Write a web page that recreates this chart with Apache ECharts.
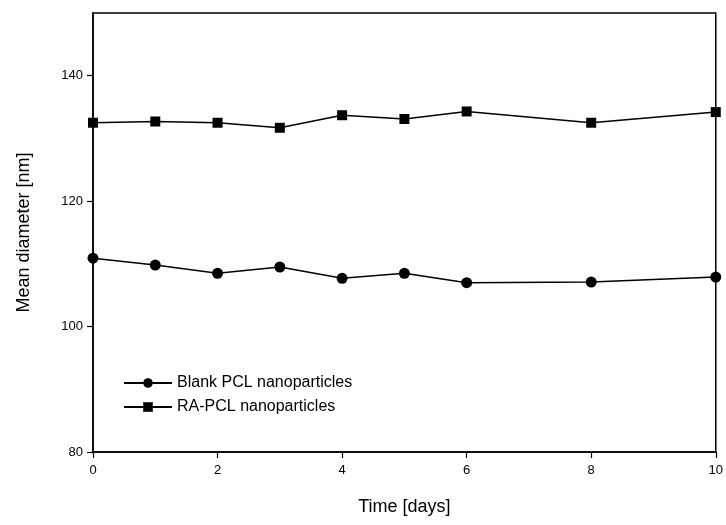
<!DOCTYPE html>
<html><head><meta charset="utf-8">
<script src="https://cdn.jsdelivr.net/npm/echarts@6/dist/echarts.min.js"></script>
<style>html,body{margin:0;padding:0;background:#fff}#c{width:726px;height:525px}</style>
</head><body><div id="c"></div>
<script>
const days = [0, 1, 2, 3, 4, 5, 6, 8, 10];
const blankPCL = [110.9, 109.8, 108.5, 109.5, 107.7, 108.5, 107.0, 107.1, 107.9];
const raPCL = [132.5, 132.7, 132.5, 131.7, 133.7, 133.1, 134.3, 132.5, 134.2];
const xTicks = [0, 2, 4, 6, 8, 10];
const yTicks = [80, 100, 120, 140];

const font = 'Liberation Sans, Arial, sans-serif';
const chart = echarts.init(document.getElementById('c'));
chart.setOption({
  animation: false,
  backgroundColor: '#fff',
  grid: {left: 93, right: 8, top: 13, bottom: 73, show: true, borderColor: '#000', borderWidth: 1.5, backgroundColor: 'transparent'},
  xAxis: {
    type: 'value', min: 0, max: 10, interval: 2,
    name: 'Time [days]', nameLocation: 'middle', nameGap: 46,
    nameTextStyle: {fontFamily: font, fontSize: 18, color: '#000'},
    axisLine: {show: true, lineStyle: {color: '#000', width: 1.5}},
    axisTick: {show: true, length: 6, customValues: xTicks, lineStyle: {color: '#000', width: 1.2}},
    axisLabel: {fontFamily: font, fontSize: 13, color: '#000', margin: 12, customValues: xTicks},
    splitLine: {show: false}
  },
  yAxis: {
    type: 'value', min: 80, max: 150, interval: 20,
    name: 'Mean diameter [nm]', nameLocation: 'middle', nameGap: 60,
    nameTextStyle: {fontFamily: font, fontSize: 18, color: '#000'},
    axisLine: {show: true, lineStyle: {color: '#000', width: 1.5}},
    axisTick: {show: true, length: 6, customValues: yTicks, lineStyle: {color: '#000', width: 1.2}},
    axisLabel: {fontFamily: font, fontSize: 13, color: '#000', margin: 10, customValues: yTicks},
    splitLine: {show: false}
  },
  legend: {
    orient: 'vertical', left: 118, top: 370, itemWidth: 48, itemHeight: 12, itemGap: 8,
    textStyle: {fontFamily: font, fontSize: 16, color: '#000'},
    data: ['Blank PCL nanoparticles', 'RA-PCL nanoparticles']
  },
  series: [
    {name: 'Blank PCL nanoparticles', type: 'line', data: days.map((d, i) => [d, blankPCL[i]]),
     symbol: 'circle', symbolSize: 11, itemStyle: {color: '#000'}, lineStyle: {color: '#000', width: 1.5}},
    {name: 'RA-PCL nanoparticles', type: 'line', data: days.map((d, i) => [d, raPCL[i]]),
     symbol: 'rect', symbolSize: 10, itemStyle: {color: '#000'}, lineStyle: {color: '#000', width: 1.5}}
  ]
});
</script></body></html>
